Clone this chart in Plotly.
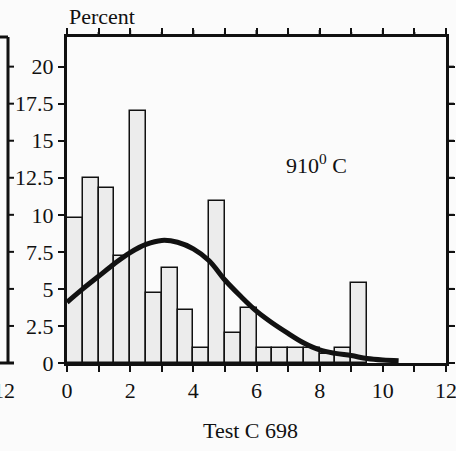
import plotly.graph_objects as go

# Histogram data (bin width 0.5)
bin_starts = [0.0, 0.5, 1.0, 1.5, 2.0, 2.5, 3.0, 3.5, 4.0, 4.5,
              5.0, 5.5, 6.0, 6.5, 7.0, 7.5, 8.0, 8.5, 9.0]
percent = [9.8, 12.5, 11.8, 7.2, 17.0, 4.7, 6.4, 3.6, 1.0, 10.9,
           2.0, 3.7, 1.0, 1.0, 1.0, 1.0, 0.6, 1.0, 5.4]
bin_width = 0.5

# Fitted curve
curve_x = [0, 0.5, 1, 1.5, 2, 2.5, 3, 3.5, 4, 4.5, 5, 5.5, 6, 6.5, 7,
           7.5, 8, 8.5, 9, 9.5, 10, 10.5]
curve_y = [4.1, 5.0, 5.85, 6.7, 7.45, 8.0, 8.27, 8.15, 7.7, 6.9, 5.6, 4.5,
           3.5, 2.7, 2.0, 1.35, 0.88, 0.65, 0.5, 0.3, 0.2, 0.15]

x_tickvals = list(range(0, 13))
x_ticktext = [str(v) if v % 2 == 0 else "" for v in x_tickvals]
y_tickvals = [0, 2.5, 5, 7.5, 10, 12.5, 15, 17.5, 20]
y_ticktext = ["0", "2.5", "5", "7.5", "10", "12.5", "15", "17.5", "20"]

FONT = "Liberation Serif"
INK = "#111111"
W, H = 456, 451
# plot area in reference pixels: x 67..446, y 37..363
L, R, T, B = 67, 456 - 446, 37, 451 - 363
pw, ph = W - L - R, H - T - B


def px_x(p):
    return (p - L) / pw


def px_y(p):
    return (H - B - p) / ph


fig = go.Figure()
fig.add_trace(go.Bar(
    x=[s + bin_width / 2 for s in bin_starts],
    y=percent,
    width=bin_width,
    marker=dict(color="#ececec", line=dict(color=INK, width=1.5)),
    showlegend=False,
))
fig.add_trace(go.Scatter(
    x=curve_x, y=curve_y, mode="lines",
    line=dict(color=INK, width=5, shape="spline"),
    showlegend=False,
))

axis_common = dict(
    showline=True, linecolor=INK, linewidth=3, mirror="allticks",
    ticks="outside", ticklen=6, tickwidth=2, tickcolor=INK,
    showgrid=False, zeroline=False, ticklabeloverflow="allow",
    tickfont=dict(family=FONT, size=22, color=INK),
)
fig.update_xaxes(range=[0, 12], tickmode="array", tickvals=x_tickvals,
                 ticktext=x_ticktext, **axis_common)
fig.update_yaxes(range=[0, 22], tickmode="array", tickvals=y_tickvals,
                 ticktext=y_ticktext, **axis_common)

annotations = [
    dict(text="Percent", xref="paper", yref="paper", x=px_x(67), y=px_y(17),
         xanchor="left", yanchor="middle", showarrow=False,
         font=dict(family=FONT, size=22, color=INK)),
    dict(text="910<sup>0</sup> C", xref="x", yref="y", x=7.9, y=13.4,
         xanchor="center", yanchor="middle", showarrow=False,
         font=dict(family=FONT, size=22, color=INK)),
    dict(text="Test C 698", xref="paper", yref="paper", x=px_x(250), y=px_y(430),
         xanchor="center", yanchor="middle", showarrow=False,
         font=dict(family=FONT, size=22, color=INK)),
    dict(text="12", xref="paper", yref="paper", x=px_x(17), y=px_y(390),
         xanchor="right", yanchor="middle", showarrow=False,
         font=dict(family=FONT, size=22, color=INK)),
]

# Neighbouring panel's right axis (cut off at the left edge)
nx = px_x(8)
shapes = [
    dict(type="line", xref="paper", yref="paper", x0=nx, x1=nx, y0=0, y1=1,
         line=dict(color=INK, width=3)),
    dict(type="line", xref="paper", yref="paper", x0=px_x(0), x1=nx, y0=1, y1=1,
         line=dict(color=INK, width=3)),
    dict(type="line", xref="paper", yref="paper", x0=px_x(0), x1=px_x(14), y0=0, y1=0,
         line=dict(color=INK, width=3)),
]
for v in y_tickvals:
    shapes.append(dict(type="line", xref="paper", yref="y", x0=nx, x1=px_x(14),
                       y0=v, y1=v, line=dict(color=INK, width=2)))

# Frame on the right and top of this panel
rx = px_x(447.5)
shapes.append(dict(type="line", xref="paper", yref="paper", x0=rx, x1=rx,
                   y0=px_y(365), y1=px_y(35.5), line=dict(color=INK, width=3)))
for v in y_tickvals:
    shapes.append(dict(type="line", xref="paper", yref="y", x0=rx, x1=px_x(454),
                       y0=v, y1=v, line=dict(color=INK, width=2)))
for v in x_tickvals:
    shapes.append(dict(type="line", xref="x", yref="paper", x0=v, x1=v,
                       y0=px_y(36), y1=px_y(30 if v % 2 == 0 else 32),
                       line=dict(color=INK, width=2)))

fig.update_layout(
    width=W, height=H,
    margin=dict(l=L, r=R, t=T, b=B, autoexpand=False),
    paper_bgcolor="#fbfbfb", plot_bgcolor="#fbfbfb",
    font=dict(family=FONT, size=22, color=INK),
    bargap=0,
    annotations=annotations,
    shapes=shapes,
)

fig.write_html(
    "out.html",
    config={"displayModeBar": False},
    post_script="document.body.style.margin='0';document.body.style.overflow='hidden';",
)
